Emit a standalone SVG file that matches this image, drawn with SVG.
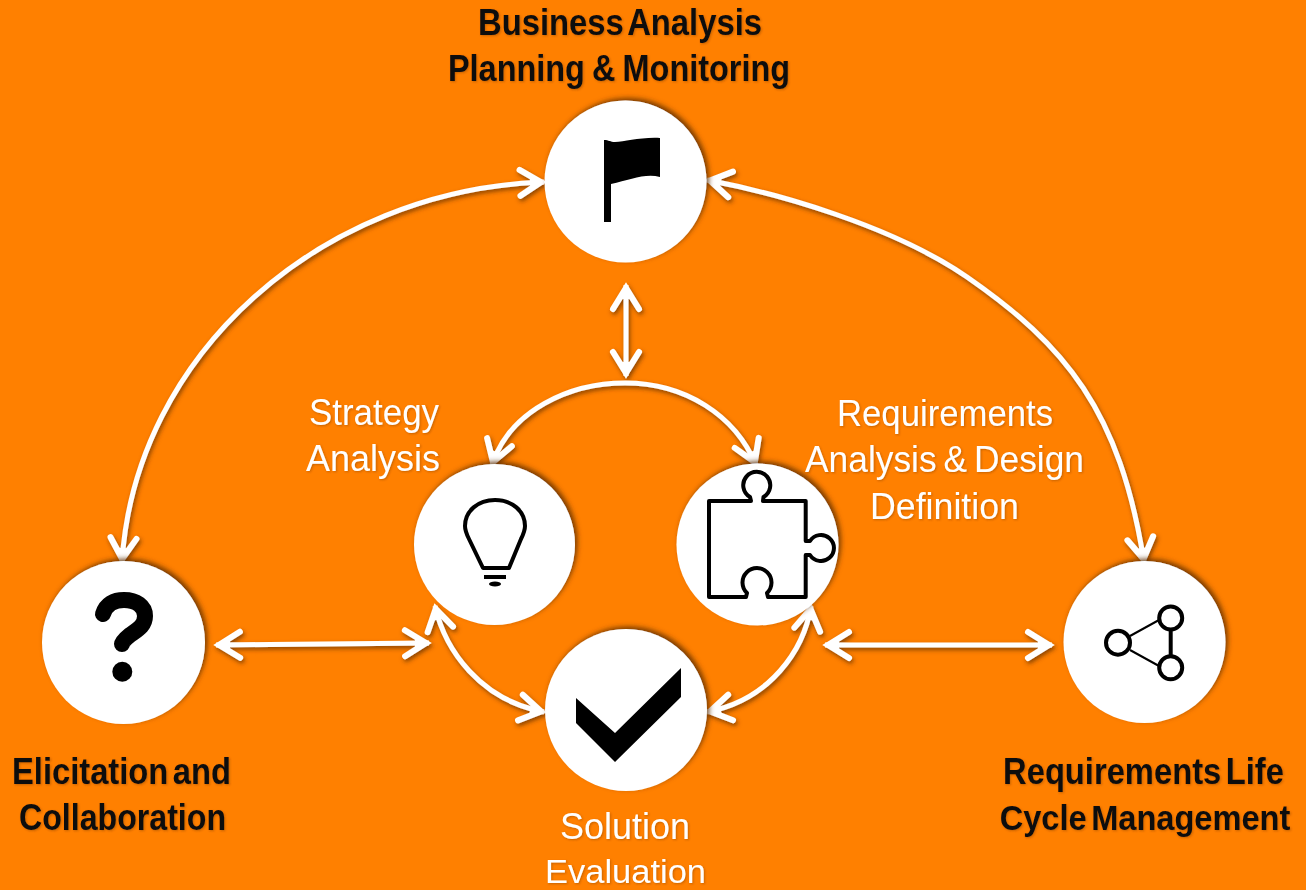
<svg xmlns="http://www.w3.org/2000/svg" width="1306" height="890" viewBox="0 0 1306 890">
<style>
.disc{fill:#fff;filter:url(#shadow)}
.icon{fill:none;stroke:#000;stroke-width:4;stroke-linejoin:round}
.thin{stroke-width:2}
.solid{fill:#000;stroke:none}
.dark,.light{font-family:"Liberation Sans",Arial,sans-serif;font-size:36px;text-anchor:middle;filter:url(#tshadow)}
.dark{font-weight:bold;fill:#111;word-spacing:-5px}
.light{fill:#fff;word-spacing:-3px}
.link{fill:none;stroke:#fff;stroke-width:5;marker-start:url(#head);marker-end:url(#head)}
#connectors{filter:url(#lshadow)}
</style>
<defs>
<filter id="shadow" x="-20%" y="-20%" width="140%" height="140%"><feDropShadow dx="2.500" dy="-2.500" stdDeviation="2.500" flood-color="#5a2a00" flood-opacity="0.8"/></filter>
<filter id="lshadow" x="-5%" y="-5%" width="110%" height="110%"><feDropShadow dx="1.500" dy="2.500" stdDeviation="2" flood-color="#5a2a00" flood-opacity="0.7"/></filter>
<filter id="tshadow" x="-10%" y="-20%" width="120%" height="140%"><feDropShadow dx="1" dy="1" stdDeviation="1" flood-color="#5a2a00" flood-opacity="0.35"/></filter>
<marker id="head" viewBox="-30 -20 40 40" markerWidth="40" markerHeight="40" refX="3" refY="0" orient="auto-start-reverse" markerUnits="userSpaceOnUse">
<path d="M-21 -13L0 0L-21 13" fill="none" stroke="#fff" stroke-width="6" stroke-linecap="round" stroke-linejoin="miter"/>
<path d="M2 0L-11 -4L-11 4Z" fill="#fff"/>
</marker>
</defs>
<rect width="1306" height="890" fill="#FF8000"/>
<g id="connectors">
<path class="link" d="M122 562C135 355 320 190 544 182"/>
<path class="link" d="M707 180C777 193 893 226 967 277C1065 345 1120 410 1144 562"/>
<path class="link" d="M626 285V376"/>
<path class="link" d="M492 465C510 410 570 383 625 383C685 383 735 415 756 465"/>
<path class="link" d="M216 645L429 643"/>
<path class="link" d="M825 645H1052"/>
<path class="link" d="M435 606C445 650 480 700 544 712"/>
<path class="link" d="M707 712C770 700 804 650 811 606"/>
</g>
<g id="node-planning">
<circle class="disc" cx="625.500" cy="181.500" r="81"/>
<path class="solid" d="M604 140C609 140 610 142 615 142C625 142 640 137 660 138V177C645 173 630 180 611 184V222H604Z"/>
<text class="dark" x="620" y="35" textLength="284" lengthAdjust="spacingAndGlyphs">Business Analysis</text>
<text class="dark" x="619" y="81" textLength="342" lengthAdjust="spacingAndGlyphs" style="word-spacing:-2px">Planning &amp; Monitoring</text>
</g>
<g id="node-strategy">
<circle class="disc" cx="494.500" cy="544.500" r="80.500"/>
<path class="icon" d="M483 568L469 539C466 533 465 530 465 526C465 511 478 500 495 500C512 500 525 511 525 526C525 530 524 533 521 539L509 568Z"/>
<path class="icon" d="M484 577H506"/>
<ellipse class="solid" cx="495" cy="584" rx="6" ry="2.500"/>
<text class="light" x="374" y="425" textLength="130" lengthAdjust="spacingAndGlyphs">Strategy</text>
<text class="light" x="373" y="471" textLength="134" lengthAdjust="spacingAndGlyphs">Analysis</text>
</g>
<g id="node-design">
<circle class="disc" cx="757.500" cy="544.500" r="81"/>
<path class="icon" d="M709 501H751L750 497A13.500 13.500 0 1 1 763.500 497L763 501H805.700V541L810 541A13 13 0 1 1 810 555H805.700V597H768L767 593A14.500 14.500 0 1 0 747 593L746 597H709Z"/>
<text class="light" x="945" y="426" textLength="216" lengthAdjust="spacingAndGlyphs">Requirements</text>
<text class="light" x="944.500" y="472" textLength="279" lengthAdjust="spacingAndGlyphs">Analysis &amp; Design</text>
<text class="light" x="944.500" y="519" textLength="149" lengthAdjust="spacingAndGlyphs">Definition</text>
</g>
<g id="node-elicitation">
<circle class="disc" cx="123.500" cy="642.500" r="81.500"/>
<path d="M103 614C106 604 114 600 124 600C136 600 145 606 145 616C145 626 137 630 130 635C125 639 122 642 122 644" fill="none" stroke="#000" stroke-width="16" stroke-linecap="round"/>
<circle class="solid" cx="122.300" cy="671.700" r="10"/>
<text class="dark" x="121.500" y="784" textLength="219" lengthAdjust="spacingAndGlyphs">Elicitation and</text>
<text class="dark" x="122.500" y="830" textLength="207" lengthAdjust="spacingAndGlyphs">Collaboration</text>
</g>
<g id="node-evaluation">
<circle class="disc" cx="626" cy="710" r="81"/>
<path class="solid" d="M576 698L615 733L681 668V697L615 762L576 723Z"/>
<text class="light" x="625" y="839" textLength="130" lengthAdjust="spacingAndGlyphs">Solution</text>
<text class="light" x="625.500" y="882.500" textLength="161" lengthAdjust="spacingAndGlyphs" style="font-size:34px">Evaluation</text>
</g>
<g id="node-lifecycle">
<circle class="disc" cx="1144.500" cy="642" r="81"/>
<circle class="icon" cx="1118" cy="642.700" r="12"/>
<circle class="icon" cx="1170.700" cy="618" r="11.500"/>
<circle class="icon" cx="1170.700" cy="667.700" r="11.500"/>
<path class="icon thin" d="M1130 636L1159 620M1130 650L1159 666"/>
<path class="icon" d="M1170.700 630V656"/>
<text class="dark" transform="translate(1143.500 784) scale(0.909 1)">Requirements Life</text>
<text class="dark" transform="translate(1145 830) scale(0.906 1)">Cycle Management</text>
</g>
</svg>
